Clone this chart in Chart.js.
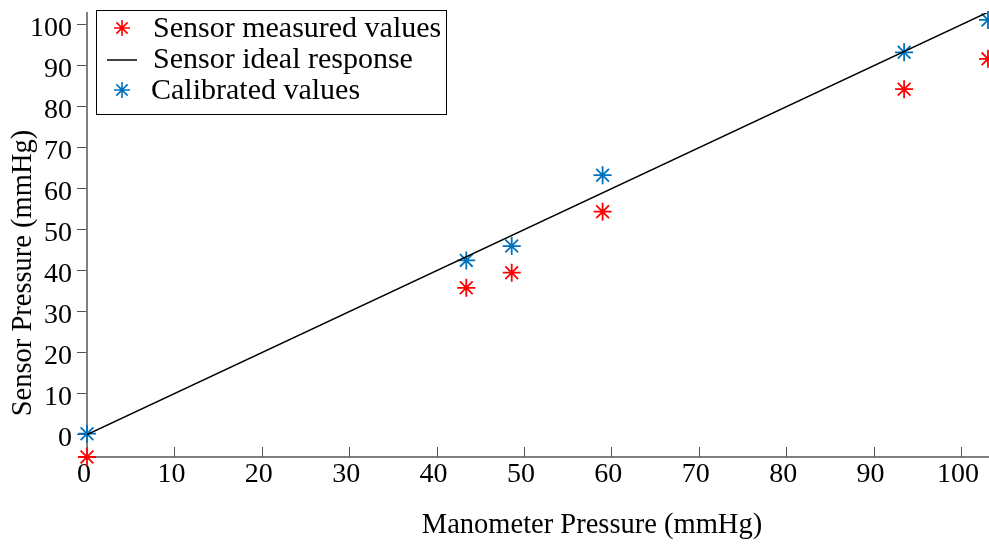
<!DOCTYPE html>
<html>
<head>
<meta charset="utf-8">
<script src="https://cdn.jsdelivr.net/npm/chart.js@4.4.1/dist/chart.umd.min.js"></script>
<style>
  html, body { margin: 0; padding: 0; background: #fff; overflow: hidden; }
  #wrap { position: relative; width: 989px; height: 544px; }
</style>
</head>
<body>
<div id="wrap"><canvas id="myChart"></canvas></div>
<script>
// Readings taken off the figure (mmHg)
const manometerX = [0, 43.4, 48.6, 59.0, 93.5, 103.1];
const measuredY = [-5.5, 35.8, 39.5, 54.4, 84.3, 91.7];
const calibratedY = [0.2, 42.5, 46.0, 63.3, 93.3, 101.2];
const idealX = [0, 103.1];
const idealY = [0, 103.1];

const xTickValues = [0, 10, 20, 30, 40, 50, 60, 70, 80, 90, 100];
const yTickValues = [0, 10, 20, 30, 40, 50, 60, 70, 80, 90, 100];

const legendLabels = ['Sensor measured values', 'Sensor ideal response', 'Calibrated values'];
const xTitle = 'Manometer Pressure (mmHg)';
const yTitle = 'Sensor Pressure (mmHg)';

const RED = '#ff0000';
const BLUE = '#0072bd';
const FONT = "'Liberation Serif', 'Times New Roman', serif";

Chart.defaults.font.family = FONT;
Chart.defaults.font.size = 28;
Chart.defaults.color = '#000';

const toPoints = (xs, ys) => xs.map((x, i) => ({ x: x, y: ys[i] }));

// inward x ticks, boxed legend and axis titles
const extras = {
    id: 'extras',
    afterDraw(chart) {
        const { ctx, chartArea, scales } = chart;
        ctx.save();

        // x ticks point up into the plot
        ctx.strokeStyle = '#555';
        ctx.lineWidth = 1;
        xTickValues.forEach(v => {
            const px = Math.round(scales.x.getPixelForValue(v)) + 0.5;
            ctx.beginPath();
            ctx.moveTo(px, chartArea.bottom);
            ctx.lineTo(px, chartArea.bottom - 10);
            ctx.stroke();
        });

        // legend
        ctx.fillStyle = '#fff';
        ctx.fillRect(96.5, 10.5, 350, 104);
        ctx.strokeStyle = '#000';
        ctx.lineWidth = 1;
        ctx.strokeRect(96.5, 10.5, 350, 104);

        const rows = [29, 60, 91];
        const markOpts = { pointStyle: 'star', radius: 8, rotation: 0, borderWidth: 1.6 };
        ctx.strokeStyle = RED;
        ctx.lineWidth = 1.6;
        Chart.helpers.drawPoint(ctx, markOpts, 122, rows[0] - 1);
        ctx.strokeStyle = '#000';
        ctx.lineWidth = 1.5;
        ctx.beginPath();
        ctx.moveTo(107, rows[1]);
        ctx.lineTo(137, rows[1]);
        ctx.stroke();
        ctx.strokeStyle = BLUE;
        ctx.lineWidth = 1.6;
        Chart.helpers.drawPoint(ctx, markOpts, 122, rows[2] - 1);

        ctx.fillStyle = '#000';
        ctx.font = '30px ' + FONT;
        ctx.textAlign = 'left';
        ctx.textBaseline = 'middle';
        ctx.fillText(legendLabels[0], 153, rows[0]);
        ctx.fillText(legendLabels[1], 153, rows[1]);
        ctx.fillText(legendLabels[2], 151, rows[2]);

        // axis titles
        ctx.font = '28.5px ' + FONT;
        ctx.textAlign = 'center';
        ctx.fillText(xTitle, 592, 526);
        ctx.translate(24, 273);
        ctx.rotate(-Math.PI / 2);
        ctx.fillText(yTitle, 0, 0);

        ctx.restore();
    }
};

const ctx = document.getElementById('myChart').getContext('2d');

const myChart = new Chart(ctx, {
    type: 'scatter',
    data: {
        datasets: [{
            label: legendLabels[1],
            type: 'line',
            data: toPoints(idealX, idealY),
            borderColor: '#000',
            borderWidth: 1.5,
            pointRadius: 0,
            fill: false,
            tension: 0
        }, {
            label: legendLabels[0],
            data: toPoints(manometerX, measuredY),
            pointStyle: 'star',
            pointRadius: 9,
            pointBorderWidth: 1.8,
            borderColor: RED,
            backgroundColor: RED,
            clip: false
        }, {
            label: legendLabels[2],
            data: toPoints(manometerX, calibratedY),
            pointStyle: 'star',
            pointRadius: 9,
            pointBorderWidth: 1.8,
            borderColor: BLUE,
            backgroundColor: BLUE,
            clip: false
        }]
    },
    options: {
        responsive: true,
        maintainAspectRatio: false,
        animation: false,
        layout: { autoPadding: false, padding: { top: 13, right: 1, left: 0, bottom: 0 } },
        plugins: {
            legend: { display: false },
            tooltip: { enabled: false }
        },
        scales: {
            x: {
                type: 'linear',
                min: 0,
                max: 103.1,
                afterBuildTicks: (scale) => { scale.ticks = xTickValues.map(v => ({ value: v })); },
                afterFit: (scale) => {
                    scale.height = 87;
                    scale.paddingLeft = 0;
                    scale.paddingRight = 0;
                },
                ticks: { padding: 1, labelOffset: -3, maxRotation: 0, includeBounds: false },
                grid: { drawOnChartArea: false, drawTicks: false },
                border: { color: '#808080', width: 2 }
            },
            y: {
                type: 'linear',
                min: -5.5,
                max: 102.9,
                afterBuildTicks: (scale) => { scale.ticks = yTickValues.map(v => ({ value: v })); },
                afterFit: (scale) => {
                    scale.width = 87;
                    scale.paddingTop = 0;
                    scale.paddingBottom = 0;
                },
                ticks: { padding: 5, labelOffset: 4, includeBounds: false },
                grid: { drawOnChartArea: false, drawTicks: true, tickLength: 10, color: '#555' },
                border: { color: '#808080', width: 2 }
            }
        }
    },
    plugins: [extras]
});
</script>
</body>
</html>
